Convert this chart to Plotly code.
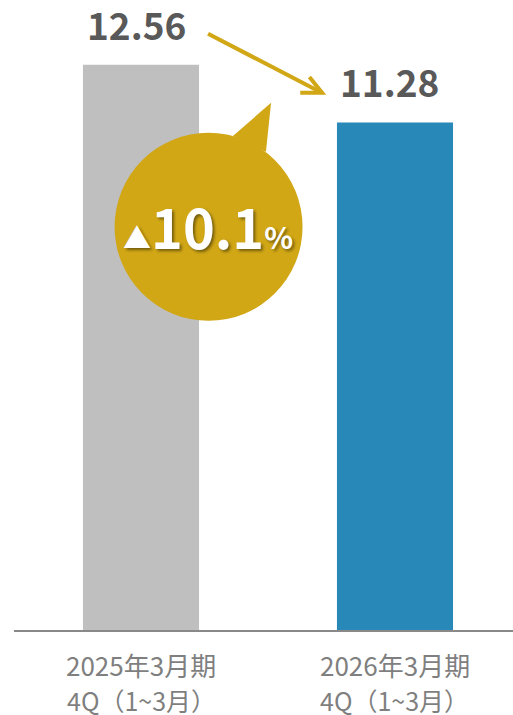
import plotly.graph_objects as go

# Quarterly values (Jan–Mar quarter) for the two fiscal years
period_labels = ["2025年3月期", "2026年3月期"]
quarter_labels = ["4Q（1~3月）", "4Q（1~3月）"]
values = [12.56, 11.28]
value_labels = ["12.56", "11.28"]
change_label = "10.1"
bar_colors = ["#BFBFBF", "#2888B8"]

GOLD = "#D1A716"
FONT = "Noto Sans CJK JP"

x_pos = list(range(len(values)))

fig = go.Figure()
fig.add_trace(go.Bar(
    x=x_pos,
    y=values,
    width=0.457,
    marker=dict(color=bar_colors, line=dict(width=0)),
    hoverinfo="skip",
))

# Value labels above each bar
for xi, v, lab in zip(x_pos, values, value_labels):
    fig.add_annotation(
        x=xi, y=v, xref="x", yref="y",
        text=f"<b>{lab}</b>", showarrow=False,
        xanchor="center", yanchor="bottom",
        xshift=-5, yshift=13, borderpad=0,
        font=dict(family=FONT, size=37, color="#595959"),
    )

# Two-line category labels under the axis
for xi, p, q in zip(x_pos, period_labels, quarter_labels):
    fig.add_annotation(
        x=xi, y=-0.054, xref="x", yref="paper",
        text=p, showarrow=False, xanchor="center", yanchor="middle",
        borderpad=0,
        font=dict(family=FONT, size=26, color="#7F7F7F"),
    )
    fig.add_annotation(
        x=xi, y=-0.111, xref="x", yref="paper",
        text=q, showarrow=False, xanchor="center", yanchor="middle",
        borderpad=0,
        font=dict(family=FONT, size=25, color="#7F7F7F"),
    )

# Speech bubble: circle plus tail
shapes = [
    dict(type="circle", xref="x", yref="y",
         x0=-0.104, x1=0.636, y0=6.87, y1=11.05,
         fillcolor=GOLD, line=dict(width=0), layer="above"),
    dict(type="path", xref="x", yref="y",
         path="M 0.362 10.98 L 0.512 11.715 L 0.492 10.626 Z",
         fillcolor=GOLD, line=dict(width=0), layer="above"),
    # Arrow from the first value to the second
    dict(type="line", xref="x", yref="y",
         x0=0.264, y0=13.25, x1=0.708, y1=11.95,
         line=dict(color=GOLD, width=4), layer="above"),
    dict(type="path", xref="x", yref="y",
         path="M 0.663 12.29 L 0.713 11.94 L 0.627 11.94",
         line=dict(color=GOLD, width=4), layer="above"),
]

fig.add_annotation(
    x=0.264, y=9.0, xref="x", yref="y",
    text=(f"<span style='font-size:28px'>▲</span><b>{change_label}</b>"
          "<span style='font-size:30px'><b>%</b></span>"),
    showarrow=False, xanchor="center", yanchor="middle",
    font=dict(family=FONT, size=54, color="#FFFFFF",
              shadow="2px 2px 3px rgba(0,0,0,0.45)"),
)

fig.update_layout(
    width=513, height=715,
    margin=dict(l=14, r=0, t=0, b=85),
    paper_bgcolor="#FFFFFF", plot_bgcolor="#FFFFFF",
    showlegend=False,
    shapes=shapes,
    xaxis=dict(
        range=[-0.5, 1.4646],
        tickvals=x_pos, showticklabels=False,
        showline=True, linecolor="#898989", linewidth=2,
        showgrid=False, zeroline=False, ticks="",
        fixedrange=True,
    ),
    yaxis=dict(
        range=[0, 14.0], visible=False, showgrid=False, zeroline=False,
        fixedrange=True,
    ),
)

fig.write_html("out.html")
